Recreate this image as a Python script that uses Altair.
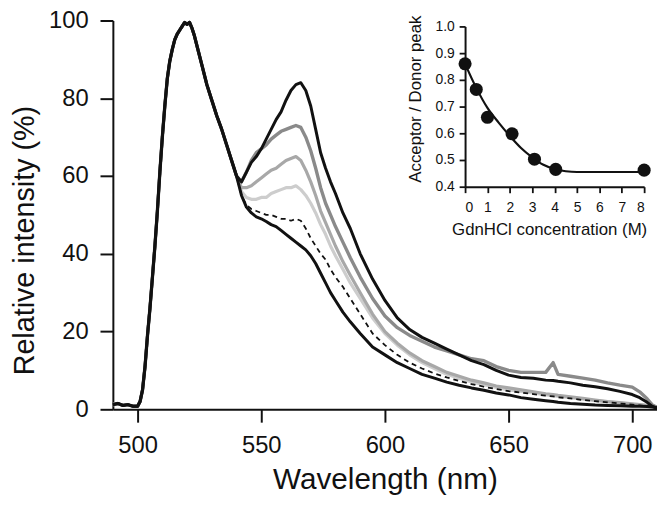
import altair as alt
import pandas as pd

# ---------------- data: emission spectra ----------------
WL_HEAD = [490, 492, 494, 496, 498,
           500, 501, 502, 503, 504, 505, 506, 507, 508, 509, 510, 511, 512,
           513, 514, 515, 516, 517, 518, 519, 520, 521, 522, 523, 524,
           526, 528, 530, 532, 534, 536, 538, 540]
HEAD = [1.2, 1.5, 1.0, 1.2, 0.8,
        0.8, 2, 5, 11, 19, 26, 34, 42, 51, 61, 70, 78, 85,
        89.5, 92.5, 95, 96.5, 97.5, 98.5, 99.5, 99, 99.5, 98, 96, 93.5,
        88.5, 83.5, 79.5, 75.5, 72, 68, 64, 60]

WL_TAIL = [542, 544, 546, 548, 550, 552, 554, 556, 558, 560,
           562, 564, 566, 568, 570, 572, 574, 576, 578, 580,
           583, 586,
           590, 595, 600, 605, 610, 615, 620, 625, 630, 635, 640, 645, 650, 655, 660, 665,
           668,
           670, 675, 680, 685, 690, 695, 700,
           703, 706, 708, 710]

TAIL_0M = [58.5, 61, 63.5, 65, 67, 69.5, 72, 74.5, 76.5, 79.5,
           82, 83.5, 84, 82, 78, 72, 66, 62, 58.5, 55.5,
           50.5, 46.5,
           40, 33.5, 28, 23.5, 20.5, 18.5, 17, 15.5, 14, 12.5, 11.5, 10, 8.8, 8.2, 8, 7.5,
           7.4,
           7.2, 6.8, 6.2, 5.8, 5.3, 4.6, 3.8,
           3, 1.8, 0.8, 0.3]
TAIL_DARK = [58.5, 61, 64, 66, 67, 68, 69.5, 70.5, 71.5, 72,
             72.5, 73, 72.5, 70, 66.5, 62, 57, 53, 50, 47,
             43, 39,
             34, 28.5, 24, 21, 19, 17.5, 16, 15, 14, 13, 12.5, 11, 10, 9.5, 9.5, 9.5,
             12,
             9, 8.5, 8, 7.5, 6.8, 6.2, 5.7,
             4.5, 2.7, 1.2, 0.5]
TAIL_MID = [57, 57, 57.5, 58.5, 59.5, 60.5, 61.5, 62, 63, 64,
            64.5, 65, 64, 61.5, 58.5, 55, 51, 48, 45, 42,
            38, 34.5,
            30, 24.5, 20, 17, 14.5, 12.5, 11, 9.5, 8.5, 7.5, 6.8, 6, 5.5, 5, 4.5, 4,
            3.8,
            3.6, 3.2, 2.8, 2.4, 2, 1.7, 1.4,
            1.2, 1, 0.8, 0.6]
TAIL_LIGHT = [56, 54.5, 54, 54, 54.5, 54.5, 55.5, 56, 56.5, 57,
              57, 57.5, 56.5, 55, 53, 50.5, 47.5, 45, 42, 39.5,
              36, 32.5,
              28.5, 23.5, 19.5, 16.5, 14, 12, 10.5, 9, 8, 7, 6.3, 5.6, 5, 4.6, 4.2, 3.7,
              3.5,
              3.3, 3, 2.6, 2.2, 1.9, 1.6, 1.3,
              1.1, 0.9, 0.7, 0.5]
TAIL_DASH = [55, 52.5, 51.5, 51, 50.5, 50, 50, 49.5, 49, 49,
             48.5, 49, 48.5, 46.5, 44, 42, 40, 38.5, 36, 34,
             31.5, 28.5,
             24.5, 19.5, 16.5, 14, 12, 10.5, 9.2, 8.2, 7.3, 6.5, 5.8, 5.2, 4.7, 4.3, 3.9, 3.5,
             3.3,
             3.1, 2.8, 2.4, 2.1, 1.8, 1.5, 1.2,
             1, 0.8, 0.6, 0.4]
TAIL_LOW = [55, 52, 50.5, 49.5, 49, 48.3, 47.5, 47, 46, 45,
            44, 43, 42, 41, 39.5, 37.5, 35, 32.5, 30, 28,
            25, 22.5,
            19.5, 16, 14, 12, 10.5, 9, 8, 7, 6.2, 5.5, 4.9, 4.2, 3.7, 3, 2.6, 2.2,
            2,
            1.8, 1.5, 1.3, 1.1, 1, 0.9, 0.8,
            0.8, 0.7, 0.6, 0.4]

# ---------------- data: inset ----------------
CONC = [0, 0.5, 1, 2.1, 3.1, 4.05, 8]
RATIO = [0.86, 0.764, 0.66, 0.598, 0.503, 0.465, 0.462]
FIT_CONC = [0, 0.5, 1, 1.5, 2, 2.5, 3, 3.5, 4, 4.5, 5, 6, 7, 8]
FIT_RATIO = [0.86, 0.77, 0.695, 0.64, 0.59, 0.545, 0.51, 0.482, 0.466, 0.458,
             0.455, 0.455, 0.455, 0.455]

# ---------------- styles (draw order: back to front) ----------------
STYLES = [
    (TAIL_LIGHT, "#cdcdcd", 3.2, []),
    (TAIL_MID, "#a8a8a8", 3.2, []),
    (TAIL_DARK, "#8a8a8a", 3.4, []),
    (TAIL_DASH, "#111111", 1.8, [5, 4]),
    (TAIL_LOW, "#111111", 3.0, []),
    (TAIL_0M, "#111111", 3.0, []),
]

FONT = "Liberation Sans"

x_main = alt.X(
    "wl:Q",
    scale=alt.Scale(domain=[490, 710], nice=False, zero=False),
    axis=alt.Axis(
        values=[500, 550, 600, 650, 700], format="d", grid=False,
        tickSize=13, tickWidth=2, domainWidth=2, labelPadding=12,
        labelFontSize=24, title="Wavelength (nm)", titleFontSize=30,
        titleFontWeight="normal", titleBaseline="alphabetic", titleY=80,
    ),
)
y_main = alt.Y(
    "v:Q",
    scale=alt.Scale(domain=[0, 100], nice=False),
    axis=alt.Axis(
        values=[0, 20, 40, 60, 80, 100], format="d", grid=False,
        tickSize=13, tickWidth=2, domainWidth=2, labelPadding=12,
        labelFontSize=24, title="Relative intensity (%)", titleFontSize=29,
        titleFontWeight="normal", titleBaseline="middle", titleX=-89, titleY=222,
    ),
)

layers = []
for tail, color, width, dash in STYLES:
    df = pd.DataFrame({"wl": WL_HEAD + WL_TAIL, "v": HEAD + tail})
    mk = dict(color=color, strokeWidth=width, strokeJoin="round")
    if dash:
        mk["strokeDash"] = dash
    layers.append(alt.Chart(df).mark_line(**mk).encode(x=x_main, y=y_main))
main = alt.layer(*layers)

# inset
x_in = alt.X(
    "c:Q",
    scale=alt.Scale(domain=[0, 8], range=[356, 537], nice=False, zero=False),
    axis=alt.Axis(
        orient="bottom", offset=-225, values=list(range(9)), format="d",
        grid=False, tickSize=6, tickWidth=1.8, domainWidth=2, labelPadding=8,
        labelFontSize=14, title="GdnHCl concentration (M)", titleFontSize=17,
        titleFontWeight="normal", titleBaseline="middle", titleX=441, titleY=43,
    ),
)
y_in = alt.Y(
    "r:Q",
    scale=alt.Scale(domain=[0.4, 1.0], range=[168, 6], nice=False, zero=False),
    axis=alt.Axis(
        orient="left", offset=-356, values=[0.4, 0.5, 0.6, 0.7, 0.8, 0.9, 1.0],
        format=".1f", grid=False, tickSize=6, tickWidth=1.8, domainWidth=2,
        labelPadding=5, labelFontSize=14, title="Acceptor / Donor peak",
        titleFontSize=17, titleFontWeight="normal", titleBaseline="middle",
        titleX=-50, titleY=79,
    ),
)
fit_df = pd.DataFrame({"c": FIT_CONC, "r": FIT_RATIO})
pts_df = pd.DataFrame({"c": CONC, "r": RATIO})
fit = alt.Chart(fit_df).mark_line(color="#111111", strokeWidth=2.2, interpolate="monotone").encode(x=x_in, y=y_in)
pts = alt.Chart(pts_df).mark_circle(color="#111111", size=175, opacity=1).encode(x=x_in, y=y_in)
inset = alt.layer(fit, pts)

chart = (
    alt.layer(main, inset)
    .resolve_scale(x="independent", y="independent")
    .properties(
        width=550, height=393, autosize="none",
        padding={"left": 106, "top": 10, "right": 0, "bottom": 85},
        background="white",
    )
    .configure_view(stroke=None)
    .configure_axis(
        labelFont=FONT, titleFont=FONT, labelColor="#111111", titleColor="#111111",
        domainColor="#111111", tickColor="#111111",
    )
)

chart.save("out.html", embed_options={"renderer": "svg", "actions": False})
